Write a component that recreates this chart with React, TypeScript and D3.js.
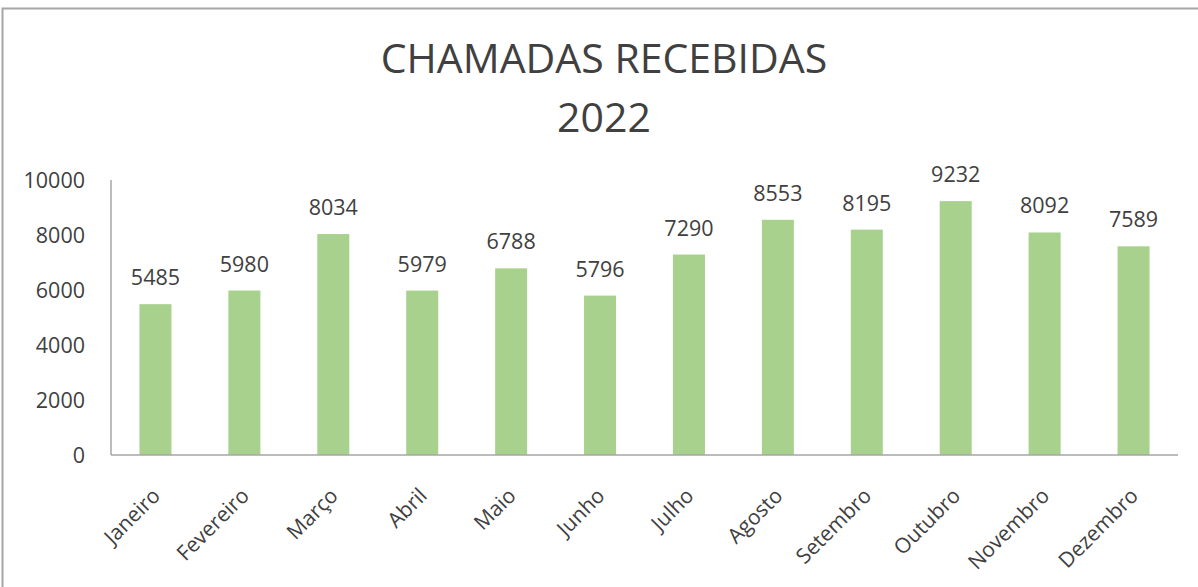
import React from "react";
import * as d3 from "d3";

const months = ["Janeiro","Fevereiro","Março","Abril","Maio","Junho","Julho","Agosto","Setembro","Outubro","Novembro","Dezembro"];
const calls = [5485, 5980, 8034, 5979, 6788, 5796, 7290, 8553, 8195, 9232, 8092, 7589];
const yTicks = [0, 2000, 4000, 6000, 8000, 10000];
const titleLines = ["CHAMADAS RECEBIDAS", "2022"];

const W = 1198, H = 587;
const plot = { left: 111, right: 1178, top: 180, bottom: 455 };
const FONT = "'Open Sans', sans-serif";
const TEXT = "#404040";

export default function App() {
  const x = d3.scaleBand<string>().domain(months).range([plot.left, plot.right]).paddingInner(0.64).paddingOuter(0.32);
  const y = d3.scaleLinear().domain([0, 10000]).range([plot.bottom, plot.top]);
  return (
    <svg width={W} height={H} style={{ position: "absolute", left: 0, top: 0, background: "#fff" }}>
      <rect x={2.5} y={8.5} width={W + 10} height={H + 10} fill="#fff" stroke="#a6a6a6" strokeWidth={2} />
      <text x={604} y={73} textAnchor="middle" fontFamily={FONT} fontSize={41} fill={TEXT}>{titleLines[0]}</text>
      <text x={604} y={132} textAnchor="middle" fontFamily={FONT} fontSize={41} fill={TEXT}>{titleLines[1]}</text>
      {yTicks.map((t) => (
        <text key={t} x={85} y={y(t)} dy="0.35em" textAnchor="end" fontFamily={FONT} fontSize={21.5} fill={TEXT}>{t}</text>
      ))}
      {months.map((m, i) => (
        <g key={m}>
          <rect x={x(m)} y={y(calls[i])} width={x.bandwidth()} height={plot.bottom - y(calls[i])} fill="#a9d18e" />
          <text x={(x(m) as number) + x.bandwidth() / 2} y={y(calls[i]) - 19} textAnchor="middle" fontFamily={FONT} fontSize={21.5} fill={TEXT}>{calls[i]}</text>
        </g>
      ))}
      <line x1={plot.left} x2={plot.left} y1={plot.top} y2={plot.bottom} stroke="#a6a6a6" strokeWidth={1.5} />
      <line x1={plot.left} x2={plot.right} y1={plot.bottom} y2={plot.bottom} stroke="#a6a6a6" strokeWidth={1.5} />
      {months.map((m) => {
        const cx = (x(m) as number) + x.bandwidth() / 2 + 6;
        const cy = 497;
        return (
          <text key={m} x={cx} y={cy} textAnchor="end" transform={`rotate(-45 ${cx} ${cy})`} fontFamily={FONT} fontSize={21} fill={TEXT}>{m}</text>
        );
      })}
    </svg>
  );
}
